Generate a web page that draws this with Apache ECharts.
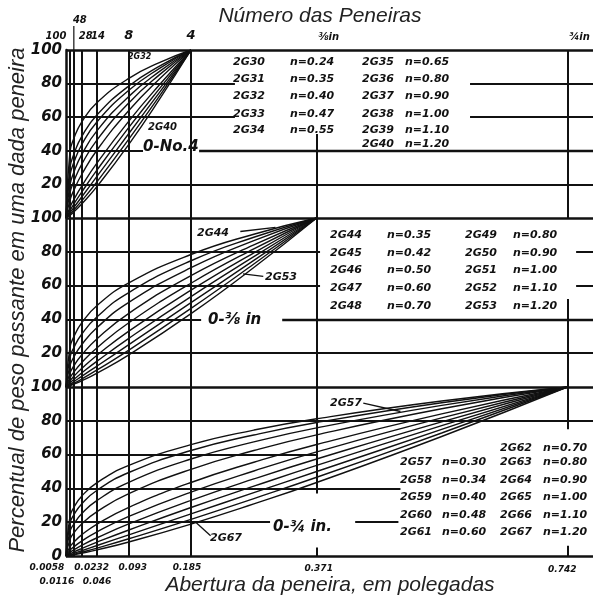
<!DOCTYPE html>
<html><head><meta charset="utf-8">
<script src="https://cdn.jsdelivr.net/npm/echarts@6/dist/echarts.min.js"></script>
<style>html,body{margin:0;padding:0;background:#fff}#c{width:597px;height:598px}</style>
</head><body><div id="c"></div>
<script>
// ---------- DATA ----------
const sieveSizes   = [0.0058, 0.0116, 0.0232, 0.046, 0.093, 0.185, 0.371, 0.742];
const sieveNumbers = ['100', '48', '28', '14', '8', '4', '⅜in', '¾in'];
const openingLabels = ['0.0058', '0.0116', '0.0232', '0.046', '0.093', '0.185', '0.371', '0.742'];
const yTicks = [0, 20, 40, 60, 80, 100];

// sample openings (in) for each panel
const xTop = [0, 0.0058, 0.0116, 0.0232, 0.046, 0.093, 0.139, 0.185];
const xMid = [0, 0.0058, 0.0116, 0.0232, 0.046, 0.093, 0.185, 0.278, 0.371];
const xBot = [0, 0.0058, 0.0116, 0.0232, 0.046, 0.093, 0.185, 0.278, 0.371, 0.556, 0.742];

// top panel (0 - No.4)
const topNames = ['2G30', '2G31', '2G32', '2G33', '2G34', '2G35', '2G36', '2G37', '2G38', '2G39', '2G40'];
const topN     = ['n=0.24', 'n=0.35', 'n=0.40', 'n=0.47', 'n=0.55', 'n=0.65', 'n=0.80', 'n=0.90', 'n=1.00', 'n=1.10', 'n=1.20'];
const g30 = [0, 39.3, 47.3, 57.1, 68.7, 83.1, 92.6, 100];
const g31 = [0, 29.8, 37.9, 48.4, 61.4, 78.6, 90.5, 100];
const g32 = [0, 25.0, 33.0, 43.6, 57.3, 76.0, 89.2, 100];
const g33 = [0, 19.6, 27.2, 37.7, 52.0, 72.4, 87.4, 100];
const g34 = [0, 14.9, 21.8, 31.9, 46.5, 68.5, 85.5, 100];
const g35 = [0, 10.5, 16.5, 25.9, 40.5, 64.0, 83.0, 100];
const g36 = [0, 6.3, 10.9, 19.0, 32.8, 57.7, 79.6, 100];
const g37 = [0, 4.4, 8.3, 15.4, 28.6, 53.9, 77.3, 100];
const g38 = [0, 3.1, 6.3, 12.5, 24.9, 50.3, 75.1, 100];
const g39 = [0, 2.2, 4.8, 10.2, 21.6, 46.9, 73.0, 100];
const g40 = [0, 1.6, 3.6, 8.3, 18.8, 43.8, 71.0, 100];

// middle panel (0 - 3/8 in)
const midNames = ['2G44', '2G45', '2G46', '2G47', '2G48', '2G49', '2G50', '2G51', '2G52', '2G53'];
const midN     = ['n=0.35', 'n=0.42', 'n=0.50', 'n=0.60', 'n=0.70', 'n=0.80', 'n=0.90', 'n=1.00', 'n=1.10', 'n=1.20'];
const g44 = [0, 23.3, 29.7, 37.9, 48.2, 61.6, 78.4, 90.4, 100];
const g45 = [0, 17.4, 23.3, 31.2, 41.6, 55.9, 74.7, 88.6, 100];
const g46 = [0, 12.5, 17.7, 25.0, 35.2, 50.1, 70.6, 86.6, 100];
const g47 = [0, 8.2, 12.5, 18.9, 28.6, 43.6, 65.9, 84.1, 100];
const g48 = [0, 5.4, 8.8, 14.4, 23.2, 38.0, 61.4, 81.7, 100];
const g49 = [0, 3.6, 6.3, 10.9, 18.8, 33.1, 57.3, 79.4, 100];
const g50 = [0, 2.4, 4.4, 8.3, 15.3, 28.8, 53.5, 77.1, 100];
const g51 = [0, 1.6, 3.1, 6.3, 12.4, 25.1, 49.9, 74.9, 100];
const g52 = [0, 1.0, 2.2, 4.7, 10.1, 21.8, 46.5, 72.8, 100];
const g53 = [0, 0.7, 1.6, 3.6, 8.2, 19.0, 43.4, 70.7, 100];

// bottom panel (0 - 3/4 in)
const botNames = ['2G57', '2G58', '2G59', '2G60', '2G61', '2G62', '2G63', '2G64', '2G65', '2G66', '2G67'];
const botN     = ['n=0.30', 'n=0.34', 'n=0.40', 'n=0.48', 'n=0.60', 'n=0.70', 'n=0.80', 'n=0.90', 'n=1.00', 'n=1.10', 'n=1.20'];
const g57 = [0, 23.3, 28.7, 35.4, 43.4, 53.6, 65.9, 74.5, 81.2, 91.7, 100];
const g58 = [0, 19.2, 24.3, 30.8, 38.9, 49.4, 62.4, 71.6, 79.0, 90.7, 100];
const g59 = [0, 14.4, 18.9, 25.0, 32.9, 43.6, 57.4, 67.5, 75.8, 89.1, 100];
const g60 = [0, 9.7, 13.6, 19.0, 26.3, 36.9, 51.3, 62.4, 71.7, 87.1, 100];
const g61 = [0, 5.4, 8.2, 12.5, 18.9, 28.8, 43.5, 55.5, 66.0, 84.1, 100];
const g62 = [0, 3.4, 5.4, 8.8, 14.3, 23.4, 37.8, 50.3, 61.6, 81.7, 100];
const g63 = [0, 2.1, 3.6, 6.3, 10.8, 19.0, 32.9, 45.6, 57.4, 79.4, 100];
const g64 = [0, 1.3, 2.4, 4.4, 8.2, 15.4, 28.7, 41.3, 53.6, 77.1, 100];
const g65 = [0, 0.8, 1.6, 3.1, 6.2, 12.5, 24.9, 37.5, 50.0, 74.9, 100];
const g66 = [0, 0.5, 1.0, 2.2, 4.7, 10.2, 21.7, 34.0, 46.6, 72.8, 100];
const g67 = [0, 0.3, 0.7, 1.6, 3.6, 8.3, 18.9, 30.8, 43.5, 70.7, 100];

// ---------- CHART ----------
const INK = '#111';
const LBL = 'italic bold 11px "DejaVu Sans"';
const chart = echarts.init(document.getElementById('c'), null, {renderer: 'canvas'});

const topCurves = [g30, g31, g32, g33, g34, g35, g36, g37, g38, g39, g40];
const midCurves = [g44, g45, g46, g47, g48, g49, g50, g51, g52, g53];
const botCurves = [g57, g58, g59, g60, g61, g62, g63, g64, g65, g66, g67];

const XMAX = 0.78;
const grids = [
  {left: 66, top: 50, width: 527, height: 168},
  {left: 66, top: 218, width: 527, height: 169},
  {left: 66, top: 387, width: 527, height: 169}
];

function curve(name, xs, ys, gi) {
  return {
    type: 'line', name: name, xAxisIndex: gi, yAxisIndex: gi,
    data: xs.map((x, i) => [x, ys[i]]),
    symbol: 'none', showSymbol: false, smooth: 0.5,
    lineStyle: {color: INK, width: 1.4}, silent: true, z: 3, animation: false
  };
}
function seg(x0, y0, x1, y1, w) {
  return [{coord: [x0, y0], lineStyle: {width: w || 2, color: INK, type: 'solid'}}, {coord: [x1, y1]}];
}
function lines(gi, segs) {
  return {
    type: 'line', xAxisIndex: gi, yAxisIndex: gi, data: [[0, 0]], symbol: 'none',
    lineStyle: {opacity: 0}, silent: true, animation: false, z: 2,
    markLine: {silent: true, symbol: ['none', 'none'], label: {show: false}, animation: false,
      lineStyle: {color: INK, width: 2, type: 'solid'}, data: segs}
  };
}

const topSegs = [];
sieveSizes.slice(0, 6).forEach(v => topSegs.push(seg(v, 0, v, 100)));
topSegs.push(seg(0.742, 0, 0.742, 100));
topSegs.push(seg(0.371, 0, 0.371, 50));
topSegs.push(seg(0, 100, XMAX, 100, 2.6));
topSegs.push(seg(0, 80, 0.25, 80), seg(0.598, 80, XMAX, 80));
topSegs.push(seg(0, 60, 0.25, 60), seg(0.598, 60, XMAX, 60));
topSegs.push(seg(0, 40, 0.114, 40), seg(0.197, 40, XMAX, 40, 2.4));
topSegs.push(seg(0, 20, XMAX, 20));

const midSegs = [];
sieveSizes.slice(0, 7).forEach(v => midSegs.push(seg(v, 0, v, 100)));
midSegs.push(seg(0.742, 0, 0.742, 52));
midSegs.push(seg(0, 100, XMAX, 100, 2.6));
midSegs.push(seg(0, 80, 0.376, 80), seg(0.755, 80, XMAX, 80));
midSegs.push(seg(0, 60, 0.376, 60), seg(0.755, 60, XMAX, 60));
midSegs.push(seg(0, 40, 0.2, 40), seg(0.32, 40, XMAX, 40, 2.4));
midSegs.push(seg(0, 20, XMAX, 20));
midSegs.push(seg(0.258, 92, 0.31, 94.5, 1.3));
midSegs.push(seg(0.262, 67, 0.292, 65.5, 1.3));

const botSegs = [];
sieveSizes.slice(0, 6).forEach(v => botSegs.push(seg(v, 0, v, 100)));
botSegs.push(seg(0.371, 37, 0.371, 100), seg(0.371, 0, 0.371, 5));
botSegs.push(seg(0.742, 75, 0.742, 100), seg(0.742, 0, 0.742, 6));
botSegs.push(seg(0, 100, XMAX, 100, 2.6));
botSegs.push(seg(0, 80, XMAX, 80));
botSegs.push(seg(0, 60, 0.371, 60));
botSegs.push(seg(0, 40, 0.495, 40));
botSegs.push(seg(0, 20, 0.302, 20), seg(0.428, 20, 0.492, 20));
botSegs.push(seg(0, 0, XMAX, 0, 2.6));
botSegs.push(seg(0.44, 90.5, 0.495, 85.5, 1.3));
botSegs.push(seg(0.192, 20, 0.214, 12, 1.3));

const series = [];
topCurves.forEach((d, i) => series.push(curve(topNames[i], xTop, d, 0)));
midCurves.forEach((d, i) => series.push(curve(midNames[i], xMid, d, 1)));
botCurves.forEach((d, i) => series.push(curve(botNames[i], xBot, d, 2)));
series.push(lines(0, topSegs), lines(1, midSegs), lines(2, botSegs));

const xAxes = grids.map((g, i) => ({type: 'value', gridIndex: i, min: 0, max: XMAX, show: false}));
const yAxes = grids.map((g, i) => ({
  type: 'value', gridIndex: i, min: yTicks[0], max: yTicks[yTicks.length - 1], interval: 20,
  splitLine: {show: false}, axisTick: {show: false},
  axisLine: {show: true, onZero: false, lineStyle: {color: INK, width: 2.5}},
  axisLabel: {
    margin: 4, color: INK, fontSize: 15, fontStyle: 'italic', fontWeight: 'bold', fontFamily: 'DejaVu Sans',
    formatter: v => (v === 0 && i < 2) ? '' : String(v)
  }
}));

chart.setOption({
  animation: false,
  backgroundColor: '#fff',
  grid: grids,
  xAxis: xAxes,
  yAxis: yAxes,
  series: series
});

// ---------- TEXT ----------
function txt(x, y, s, font, align) {
  return {type: 'text', x: x, y: y, z: 100, silent: true,
    style: {text: s, font: font || LBL, fill: INK, align: align || 'left', verticalAlign: 'middle'}};
}
function title(x, y, s, size, rot) {
  return {type: 'text', x: x, y: y, rotation: rot || 0, z: 100, silent: true,
    style: {text: s, font: 'italic ' + size + 'px "Liberation Sans"', fill: '#222', align: 'center', verticalAlign: 'middle'}};
}
const G = [];
G.push(title(320, 16, 'Número das Peneiras', 21));
G.push(title(330, 585, 'Abertura da peneira, em polegadas', 21));
G.push(title(18, 300, 'Percentual de peso passante em uma dada peneira', 22, Math.PI / 2));

// sieve numbers on top, openings at bottom
const topDx = [-14, 6, 4, 1, 0, 0, 12, 12];
const topDy = [-14, -30, -14, -14, -14, -14, -13, -13];
const botDx = [-23, -17, 10, 0, 4, -4, 2, -5];
const botDy = [12, 26, 12, 26, 12, 12, 13, 14];
sieveSizes.forEach((v, i) => {
  const pT = chart.convertToPixel({gridIndex: 0}, [v, 100]);
  const fs = (i === 4 || i === 5) ? 13 : 10;
  G.push(txt(pT[0] + topDx[i], pT[1] + topDy[i], sieveNumbers[i], 'italic bold ' + fs + 'px "DejaVu Sans"', 'center'));
  const pB = chart.convertToPixel({gridIndex: 2}, [v, 0]);
  G.push(txt(pB[0] + botDx[i], pB[1] + botDy[i], openingLabels[i], 'italic bold 9px "DejaVu Sans"', 'center'));
});
// small leader from "48"
(function () {
  const p = chart.convertToPixel({gridIndex: 0}, [sieveSizes[1], 100]);
  G.push({type: 'line', z: 100, silent: true, shape: {x1: p[0], y1: p[1] - 24, x2: p[0], y2: p[1]}, style: {stroke: INK, lineWidth: 1.2}});
})();

// legends - top panel
const topRows = [62, 79, 96, 114, 130, 144];
for (let i = 0; i < 5; i++) {
  G.push(txt(233, topRows[i], topNames[i]));
  G.push(txt(290, topRows[i], topN[i]));
}
for (let i = 5; i < 11; i++) {
  G.push(txt(362, topRows[i - 5], topNames[i]));
  G.push(txt(405, topRows[i - 5], topN[i]));
}
// legends - middle panel
const midRows = [235, 253, 270, 288, 306];
for (let i = 0; i < 5; i++) {
  G.push(txt(330, midRows[i], midNames[i]));
  G.push(txt(387, midRows[i], midN[i]));
  G.push(txt(465, midRows[i], midNames[i + 5]));
  G.push(txt(513, midRows[i], midN[i + 5]));
}
// legends - bottom panel
const botRows = [448, 462, 480, 497, 515, 532];
for (let i = 0; i < 5; i++) {
  G.push(txt(400, botRows[i + 1], botNames[i]));
  G.push(txt(442, botRows[i + 1], botN[i]));
}
for (let i = 5; i < 11; i++) {
  G.push(txt(500, botRows[i - 5], botNames[i]));
  G.push(txt(543, botRows[i - 5], botN[i]));
}
// in-chart labels
G.push(txt(128, 57, '2G32', 'italic bold 8px "DejaVu Sans"'));
G.push(txt(148, 127, '2G40', 'italic bold 10px "DejaVu Sans"'));
G.push(txt(143, 147, '0-No.4', 'italic bold 15px "DejaVu Sans"'));
G.push(txt(197, 233, '2G44'));
G.push(txt(265, 277, '2G53'));
G.push(txt(208, 320, '0-⅜ in', 'italic bold 15px "DejaVu Sans"'));
G.push(txt(330, 403, '2G57'));
G.push(txt(273, 527, '0-¾ in.', 'italic bold 15px "DejaVu Sans"'));
G.push(txt(210, 538, '2G67'));

chart.setOption({graphic: G});
</script></body></html>
